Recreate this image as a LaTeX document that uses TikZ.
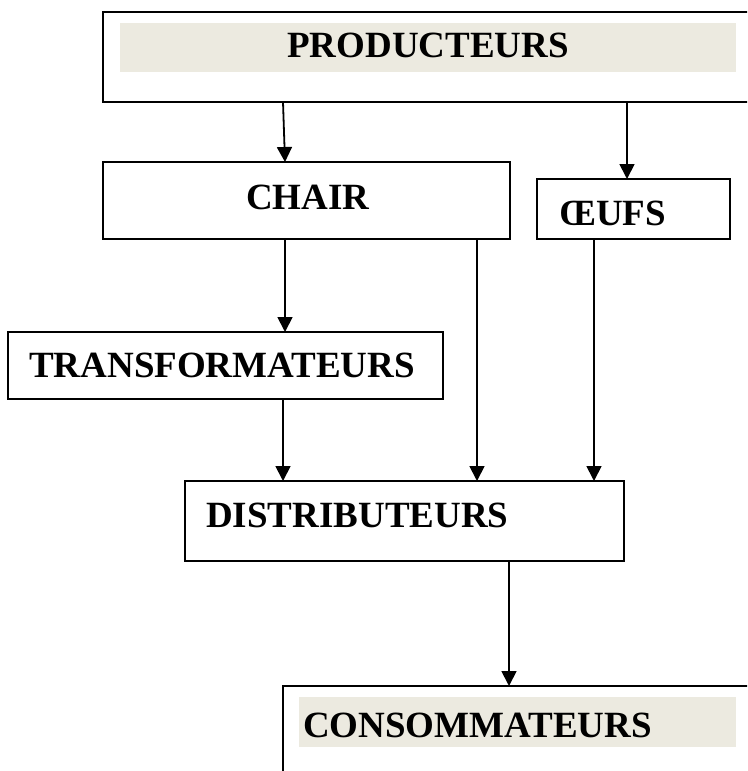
\documentclass[tikz,border=0pt]{standalone}
\usepackage{fontspec}
\setmainfont{Liberation Serif}
\usetikzlibrary{arrows.meta}
\definecolor{shade}{HTML}{ECEAE0}
\begin{document}
\begin{tikzpicture}[x=1pt,y=-1pt,
  box/.style={draw=black, line width=1.5pt, rectangle, inner sep=0pt, outer sep=0pt, anchor=north west},
  shadebox/.style={fill=shade, draw=none, rectangle, inner sep=0pt, outer sep=0pt, anchor=north west},
  lbl/.style={anchor=base west, inner sep=0pt, font=\fontsize{37}{44}\selectfont\bfseries},
  arr/.style={line width=1.8pt, -{Triangle[length=15pt,width=15pt]}}]
\useasboundingbox (0,0) rectangle (747,771);
\clip (0,0) rectangle (747,771);
% shaded bands
\node[shadebox, minimum width=616pt, minimum height=49pt] (prodshade) at (120,23) {};
\node[shadebox, minimum width=437pt, minimum height=50pt] (consshade) at (299,697) {};
% boxes
\node[box, minimum width=660pt, minimum height=90pt] (prod) at (103,12) {};
\node[box, minimum width=407pt, minimum height=77pt] (chair) at (103,162) {};
\node[box, minimum width=193pt, minimum height=60pt] (oeufs) at (537,179) {};
\node[box, minimum width=435pt, minimum height=67pt] (trans) at (8,332) {};
\node[box, minimum width=439pt, minimum height=80pt] (dist) at (185,481) {};
\node[box, minimum width=480pt, minimum height=110pt] (cons) at (283,686) {};
% labels
\node[lbl] (tprod) at (287,57) {PRODUCTEURS};
\node[lbl] (tchair) at (246,209) {CHAIR};
\node[lbl] (toeufs) at (559,225) {ŒUFS};
\node[lbl] (ttrans) at (29,377) {TRANSFORMATEURS};
\node[lbl] (tdist) at (206,527) {DISTRIBUTEURS};
\node[lbl] (tcons) at (303,737) {CONSOMMATEURS};
% connector x positions
\coordinate (xa) at (283,0);
\coordinate (xb) at (285,0);
\coordinate (xc) at (627,0);
\coordinate (xd) at (477,0);
\coordinate (xe) at (594,0);
\coordinate (xf) at (509,0);
% connectors
\draw[arr] (prod.south -| xa) -- (chair.north -| xb);
\draw[arr] (prod.south -| xc) -- (oeufs.north -| xc);
\draw[arr] (chair.south -| xb) -- (trans.north -| xb);
\draw[arr] (chair.south -| xd) -- (dist.north -| xd);
\draw[arr] (oeufs.south -| xe) -- (dist.north -| xe);
\draw[arr] (trans.south -| xa) -- (dist.north -| xa);
\draw[arr] (dist.south -| xf) -- (cons.north -| xf);
\end{tikzpicture}
\end{document}
